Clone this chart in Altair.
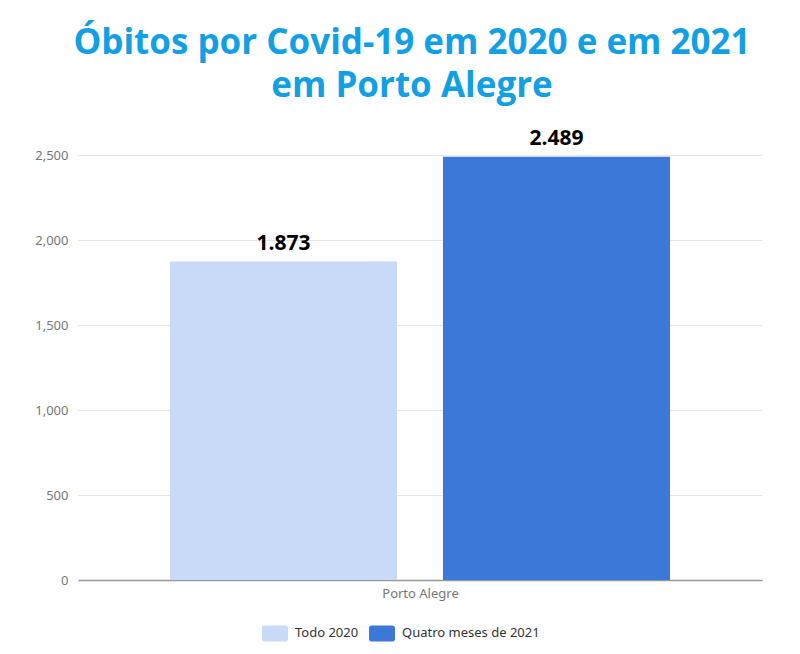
"""Óbitos por Covid-19 em Porto Alegre: 2020 vs. quatro meses de 2021."""

import pandas as pd
import altair as alt

CITY = 'Porto Alegre'
SERIES = ['Todo 2020', 'Quatro meses de 2021']
DEATHS = [1873, 2489]
COLORS = ['#c9daf8', '#3c78d8']
Y_TICKS = [0, 500, 1000, 1500, 2000, 2500]

df = pd.DataFrame({'serie': SERIES, 'obitos': DEATHS})
# Brazilian thousands separator for the value labels
df['rotulo'] = [f'{v:,}'.replace(',', '.') for v in DEATHS]

ROUNDED_RECT = (
    'M-0.8,-0.62 L0.8,-0.62 A0.2,0.2 0 0 1 1,-0.42 L1,0.42 '
    'A0.2,0.2 0 0 1 0.8,0.62 L-0.8,0.62 A0.2,0.2 0 0 1 -1,0.42 '
    'L-1,-0.42 A0.2,0.2 0 0 1 -0.8,-0.62 Z'
)

# one city group, so the category name sits under the bars as the axis title
base = alt.Chart(df).encode(
    x=alt.X('serie:N', sort=SERIES, title=CITY,
            scale=alt.Scale(paddingInner=0.1685, paddingOuter=0.337),
            axis=alt.Axis(labels=False, ticks=False, grid=False,
                          domainColor='#999999', domainWidth=1.5,
                          titleColor='#777777', titleFontSize=13,
                          titleFont='Noto Sans', titleFontWeight='normal',
                          titlePadding=7)),
    y=alt.Y('obitos:Q', title=None,
            scale=alt.Scale(domain=[0, 2500], nice=False),
            axis=alt.Axis(values=Y_TICKS, format=',d', labelColor='#777777',
                          labelFontSize=13, labelFont='Noto Sans',
                          labelPadding=10, ticks=False, domain=False,
                          gridColor='#e6e6e6')),
)

bars = base.mark_bar().encode(
    color=alt.Color('serie:N', sort=SERIES,
                    scale=alt.Scale(domain=SERIES, range=COLORS),
                    legend=alt.Legend(title=None, orient='none',
                                      legendX=184, legendY=465,
                                      direction='horizontal',
                                      symbolType=ROUNDED_RECT, symbolSize=676,
                                      symbolStrokeWidth=0, labelFontSize=13,
                                      labelColor='#333333', labelFont='Noto Sans',
                                      labelOffset=7, columnPadding=10)),
)

labels = base.mark_text(
    baseline='bottom', dy=-8, fontSize=21, fontWeight='bold',
    font='Open Sans', color='#000000',
).encode(text='rotulo:N')

chart = (
    alt.layer(bars, labels)
    .properties(
        width=684,
        height=425,
        padding={'left': 26, 'top': 17, 'right': 10, 'bottom': 8},
        title=alt.TitleParams(
            text=['Óbitos por Covid-19 em 2020 e em 2021', 'em Porto Alegre'],
            font='Open Sans', fontSize=35, fontWeight='bold',
            color='#129fe3', anchor='middle', lineHeight=43, offset=24, dx=-8,
        ),
    )
    .configure_view(stroke=None)
)

chart.save('out.html', embed_options={'renderer': 'svg', 'actions': False})
